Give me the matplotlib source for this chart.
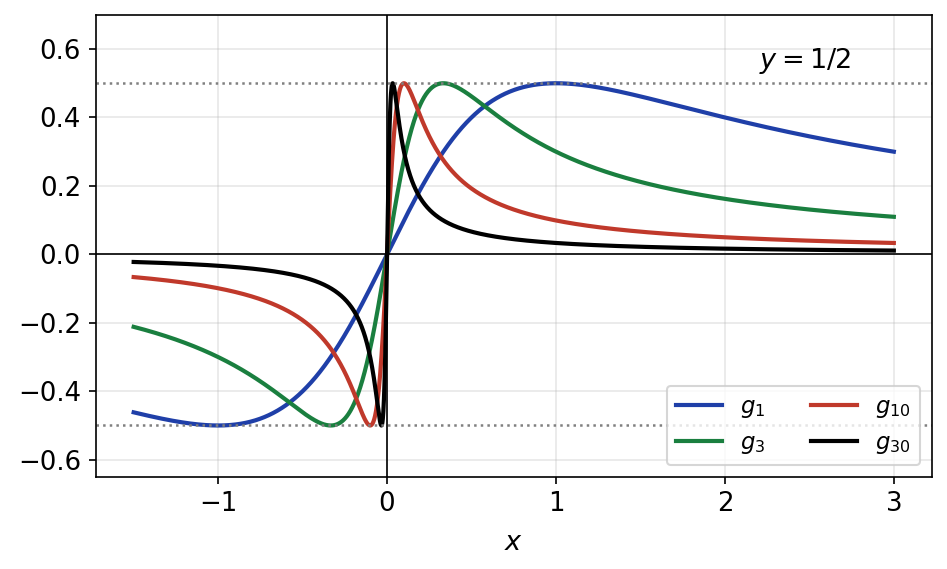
import numpy as np
import matplotlib
matplotlib.use("Agg")
import matplotlib.pyplot as plt

# parameters of the curves g_n(x) = n x / (1 + n^2 x^2)
orders = [1, 3, 10, 30]
colors = ['#1f3fa8', '#1a7f3f', '#c0392b', '#000000']
labels = ['$g_{1}$', '$g_{3}$', '$g_{10}$', '$g_{30}$']
x_min, x_max = -1.5, 3.0
half = 0.5

x = np.linspace(x_min, x_max, 4001)

fig, ax = plt.subplots(figsize=(947 / 150, 569 / 150), dpi=150)

for n, c, lab in zip(orders, colors, labels):
    ax.plot(x, n * x / (1 + (n * x) ** 2), color=c, lw=2, label=lab)

ax.axhline(0, color='black', lw=0.8)
ax.axvline(0, color='black', lw=0.8)
ax.axhline(half, color='gray', ls=':', lw=1.2)
ax.axhline(-half, color='gray', ls=':', lw=1.2)
ax.text(2.2, 0.52, '$y = 1/2$', fontsize=13, ha='left', va='bottom')

ax.set_ylim(-0.65, 0.7)
ax.set_yticks([-0.6, -0.4, -0.2, 0.0, 0.2, 0.4, 0.6])
ax.set_xticks([-1, 0, 1, 2, 3])
ax.tick_params(labelsize=12.5)
ax.set_xlabel('$x$', fontsize=13, labelpad=6)
ax.grid(True, alpha=0.3)
ax.legend(loc='lower right', ncol=2, fontsize=11)

fig.subplots_adjust(left=0.101, right=0.984, top=0.974, bottom=0.162)
fig.savefig('out.png', dpi=150)
